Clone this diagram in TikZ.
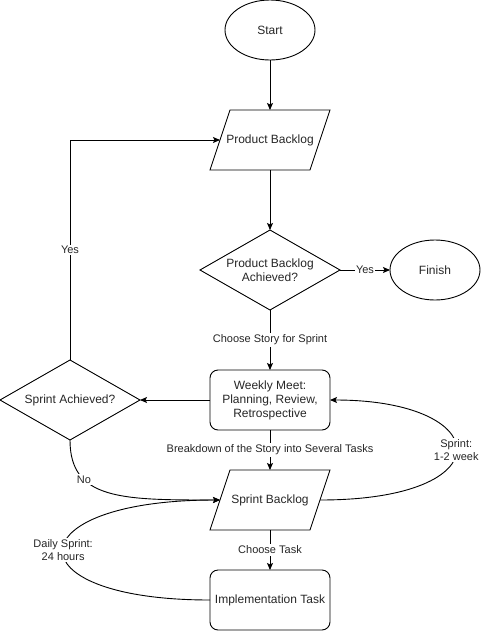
\documentclass[tikz,border=0pt]{standalone}
\usepackage{fontspec}
\setmainfont{Liberation Sans}
\usetikzlibrary{positioning, arrows.meta, shapes.geometric}
\tikzset{
    every node/.style={font=\fontsize{12}{14}\selectfont, text=black!85},
    startend/.style={draw, ellipse, minimum width=90pt, minimum height=60pt, inner sep=0pt, outer sep=0pt},
    datain/.style={minimum width=100pt, minimum height=60pt, inner sep=0pt, outer sep=0pt,
        append after command={\pgfextra{\draw ([xshift=-10pt]\tikzlastnode.south west) -- ([xshift=10pt]\tikzlastnode.north west)
            -- ([xshift=10pt]\tikzlastnode.north east) -- ([xshift=-10pt]\tikzlastnode.south east) -- cycle;}}},
    decide/.style={draw, diamond, aspect=1.75, minimum width=140pt, minimum height=80pt, inner sep=-2pt, outer sep=0pt, align=center},
    process/.style={draw, rounded corners=8pt, minimum width=120pt, minimum height=60pt, outer sep=0pt, align=center},
    edgelabel/.style={font=\fontsize{11}{13}\selectfont, fill=white, inner sep=1.5pt, align=center},
    arrow/.style={-{Stealth[length=7pt, width=6pt, inset=1.5pt]}, line width=0.9pt},
}

\begin{document}
\begin{tikzpicture}[x=1pt, y=1pt, line width=0.9pt]
   \useasboundingbox (0,0) rectangle (484,-632);
% main column of the flow, top to bottom
   \node[startend] (start) at (270,-30) {Start};
   \node[datain, below=50pt of start] (pb) {Product Backlog};
   \node[decide, below=60pt of pb] (pbdone) {Product Backlog\\Achieved?};
   \node[startend, right=50pt of pbdone] (finish) {Finish};
   \node[process, below=60pt of pbdone] (meet) {Weekly Meet:\\Planning, Review,\\Retrospective};
   \node[decide, left=70pt of meet] (sprdone) {Sprint Achieved?};
   \node[datain, below=40pt of meet] (sb) {Sprint Backlog};
   \node[process, below=40pt of sb] (impl) {Implementation Task};
   \draw[arrow] (start) -- (pb);
   \draw[arrow] (pb) -- (pbdone);
   \draw[arrow] (pbdone) -- node[edgelabel] {Yes} (finish);
   \draw[arrow] (pbdone) -- node[edgelabel] {Choose Story for Sprint} (meet);
   \draw[arrow] (meet) -- (sprdone);
   \draw[arrow] (meet) -- node[edgelabel] {Breakdown of the Story into Several Tasks} (sb);
   \draw[arrow] (sb) -- node[edgelabel] {Choose Task} (impl);
% loops back up the chart
   \draw[arrow] (sprdone.north) |- node[edgelabel, pos=0.25] {Yes} (pb.west);
   \draw[arrow] (sprdone.south) .. controls +(0,-60) and +(-98,0) .. node[edgelabel, pos=0.3] {No} (sb.west);
   \draw[arrow] (sb.east) .. controls +(185,0) and +(165,0) .. node[edgelabel] {Sprint:\\1-2 week} (meet.east);
   \draw[arrow] (impl.west) .. controls +(-200,0) and +(-205,0) .. node[edgelabel] {Daily Sprint:\\24 hours} (sb.west);
\end{tikzpicture}
\end{document}
